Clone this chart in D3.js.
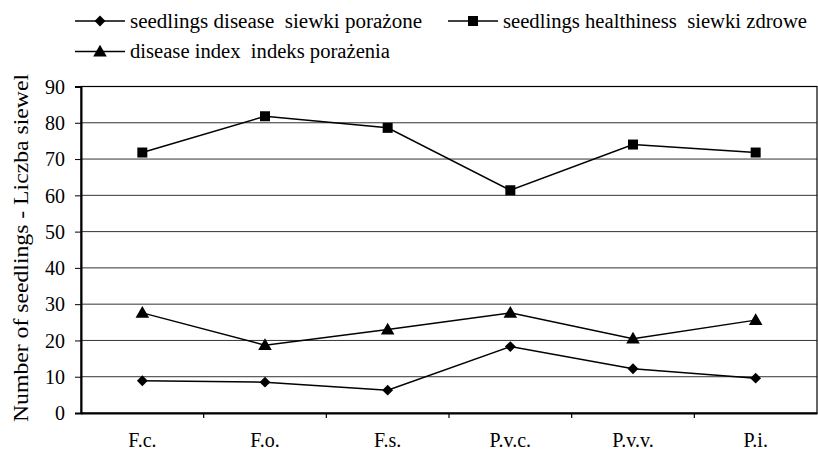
<!DOCTYPE html>
<html><head><meta charset="utf-8">
<script src="https://cdn.jsdelivr.net/npm/d3@7"></script>
<style>body{margin:0;background:#fff}svg{display:block}text{white-space:pre}</style>
</head><body>
<svg id="c" width="818" height="451"></svg>
<script>
const categories = ["F.c.", "F.o.", "F.s.", "P.v.c.", "P.v.v.", "P.i."];
const diseased = [8.9, 8.5, 6.3, 18.3, 12.2, 9.6];
const healthy = [71.8, 81.8, 78.6, 61.4, 74.0, 71.8];
const diseaseIndex = [27.6, 18.7, 23.0, 27.6, 20.5, 25.6];
const yTicks = [0, 10, 20, 30, 40, 50, 60, 70, 80, 90];
const seriesNames = ["seedlings disease  siewki porażone", "seedlings healthiness  siewki zdrowe", "disease index  indeks porażenia"];
const yTitle = "Number of seedlings - Liczba siewel";

const svg = d3.select("#c");
const FF = "Liberation Serif";
const L = 81, R = 817, T = 86.5, B = 413;
const x = d3.scaleBand().domain(categories).range([L, R]);
const y = d3.scaleLinear().domain([0, 90]).range([B, T]);

// gridlines
svg.append("g").selectAll("line").data(yTicks.filter(d => d > 0 && d < 90)).join("line")
  .attr("x1", L).attr("x2", R).attr("y1", d => y(d)).attr("y2", d => y(d))
  .attr("stroke", "#333").attr("stroke-width", 1);
// border
svg.append("rect").attr("x", L).attr("y", y(90)).attr("width", R - L).attr("height", B - y(90))
  .attr("fill", "none").attr("stroke", "#000").attr("stroke-width", 1.2);

// y axis
const ya = svg.append("g").attr("transform", `translate(${L},0)`)
  .call(d3.axisLeft(y).tickValues(yTicks).tickSize(6).tickPadding(10));
ya.attr("font-family", FF).attr("font-size", 20);
ya.select(".domain").attr("stroke-width", 2);
ya.selectAll("text").attr("fill", "#000").attr("dy", "0.34em");

// x axis
const xa = svg.append("g").attr("transform", `translate(0,${B})`)
  .call(d3.axisBottom(x).tickSize(0).tickPadding(20));
xa.attr("font-family", FF).attr("font-size", 20);
xa.select(".domain").attr("stroke-width", 2);
xa.selectAll("text").attr("fill", "#000");
// category separator ticks
svg.append("g").selectAll("line").data(categories.slice(1)).join("line")
  .attr("x1", d => x(d)).attr("x2", d => x(d)).attr("y1", B).attr("y2", B + 5)
  .attr("stroke", "#000").attr("stroke-width", 1.2);

// y title
svg.append("text").attr("transform", `translate(28,${248}) rotate(-90)`)
  .attr("text-anchor", "middle").attr("font-family", FF).attr("font-size", 20)
  .attr("textLength", 348).attr("lengthAdjust", "spacingAndGlyphs")
  .text(yTitle);

const cx = d => x(d) + x.bandwidth() / 2;
const symDiamond = d3.symbol().type(d3.symbolDiamond2).size(75);
const symSquare = d3.symbol().type(d3.symbolSquare).size(100);
const symTri = d3.symbol().type(d3.symbolTriangle).size(80);
const series = [
  {vals: diseased, sym: symDiamond, dy: 0},
  {vals: healthy, sym: symSquare, dy: 0},
  {vals: diseaseIndex, sym: symTri, dy: 1}
];
const line = d3.line().x((d, i) => cx(categories[i])).y(d => y(d));
series.forEach(s => {
  svg.append("path").datum(s.vals).attr("d", line).attr("fill", "none").attr("stroke", "#000").attr("stroke-width", 1.5);
  svg.append("g").selectAll("path").data(s.vals).join("path")
    .attr("d", s.sym).attr("transform", (d, i) => `translate(${cx(categories[i])},${y(d) + s.dy})`).attr("fill", "#000");
});

// legend
const leg = [
  {x: 75, y: 21, sym: symDiamond, name: seriesNames[0], dy: 0, w: 292},
  {x: 448, y: 21, sym: symSquare, name: seriesNames[1], dy: 0, w: 304},
  {x: 75, y: 51.5, sym: symTri, name: seriesNames[2], dy: 1, w: 260}
];
leg.forEach(l => {
  const g = svg.append("g").attr("transform", `translate(${l.x},${l.y})`);
  g.append("line").attr("x1", 0).attr("x2", 50).attr("stroke", "#000").attr("stroke-width", 1.5);
  g.append("path").attr("d", l.sym).attr("transform", `translate(25,${l.dy})`).attr("fill", "#000");
  g.append("text").attr("x", 55).attr("y", 6.5).attr("font-family", FF).attr("font-size", 20)
    .attr("textLength", l.w).attr("lengthAdjust", "spacingAndGlyphs").text(l.name);
});
</script>
</body></html>
